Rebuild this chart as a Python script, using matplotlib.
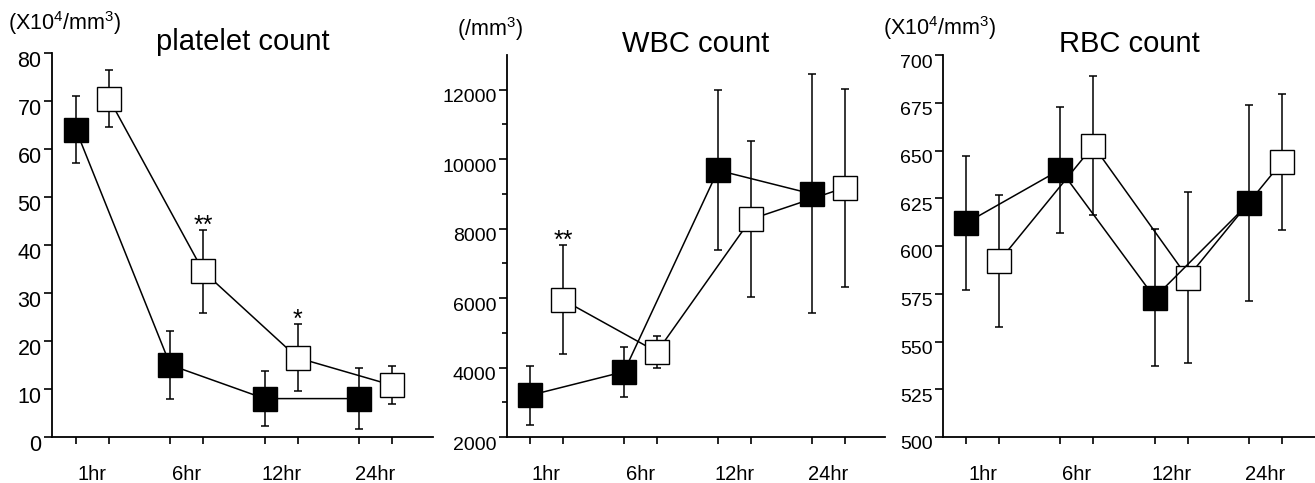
import numpy as np
import matplotlib
matplotlib.use("Agg")
import matplotlib.pyplot as plt
from matplotlib.transforms import ScaledTranslation

plt.rcParams['font.family'] = ['Liberation Sans', 'DejaVu Sans']
plt.rcParams['mathtext.fontset'] = 'custom'
plt.rcParams['mathtext.rm'] = 'Liberation Sans'
plt.rcParams['mathtext.default'] = 'regular'

# time points
categories = ['1hr', '6hr', '12hr', '24hr']

# platelet count (X10^4/mm3)
plt_black = [64, 15, 8, 8]
plt_black_err = [7, 7, 5.7, 6.4]
plt_white = [70.5, 34.5, 16.5, 10.8]
plt_white_err = [6, 8.7, 7, 4]

# WBC count (/mm3)
wbc_black = [3200, 3880, 9680, 9000]
wbc_black_err = [850, 720, 2300, 3440]
wbc_white = [5950, 4450, 8270, 9180]
wbc_white_err = [1570, 470, 2250, 2850]

# RBC count (X10^4/mm3)
rbc_black = [612, 640, 573, 622.5]
rbc_black_err = [35, 33, 36, 51.5]
rbc_white = [592, 652.5, 583.5, 644]
rbc_white_err = [34.6, 36.5, 45, 35.5]

# significance marks: (time index, text, baseline y)
plt_marks = [(1, '**', 42.5), (2, '*', 23)]
wbc_marks = [(0, '**', 7450)]
rbc_marks = []

W, H = 1315, 483
fig = plt.figure(figsize=(W / 100, H / 100), dpi=100)

OFFSET = 0.35  # white squares sit to the right of the black ones


def draw_series(ax, y, err, face, z):
    x = np.arange(len(y)) + (OFFSET if face == 'white' else 0)
    ax.errorbar(x, y, yerr=err, fmt='none', ecolor='black', elinewidth=1.1,
                capsize=3.2, capthick=1.1, zorder=z)
    ax.plot(x, y, '-', color='black', lw=1.1, zorder=z + 0.5)
    ax.plot(x, y, 's', ms=17, mfc=face, mec='black', mew=1.0, zorder=z + 1)


def make_panel(rect, xlim, black, black_err, white, white_err, marks,
               title, ylim, yticks, yminor, unit, unit_xy, tick_fs=14):
    ax = fig.add_axes([rect[0] / W, (H - rect[3]) / H,
                       (rect[2] - rect[0]) / W, (rect[3] - rect[1]) / H])
    draw_series(ax, white, white_err, 'white', 2)
    draw_series(ax, black, black_err, 'black', 4)
    for i, txt, yy in marks:
        ax.text(i + OFFSET, yy, txt, ha='center', va='baseline', fontsize=18)

    ax.set_xlim(*xlim)
    ax.set_ylim(*ylim)
    ax.spines['top'].set_visible(False)
    ax.spines['right'].set_visible(False)
    for s in ['left', 'bottom']:
        ax.spines[s].set_linewidth(1.3)

    # tick marks under every square, labels between each pair
    n = len(categories)
    ax.set_xticks(np.concatenate([np.arange(n), np.arange(n) + OFFSET]))
    ax.set_xticklabels([])
    ax.set_xticks(np.arange(n) + OFFSET / 2, minor=True)
    ax.set_xticklabels(categories, minor=True, fontsize=14.5)
    ax.tick_params(axis='x', which='major', length=5, width=1.2)
    ax.tick_params(axis='x', which='minor', length=0, pad=20)

    ax.set_yticks(yticks)
    ax.set_yticklabels([str(t) for t in yticks], fontsize=tick_fs)
    if yminor is not None:
        ax.set_yticks(yminor, minor=True)
        ax.tick_params(axis='y', which='minor', length=3.5, width=1.2)
    ax.tick_params(axis='y', which='major', length=5.5, width=1.2, pad=2)
    shift = ScaledTranslation(0, -6 / 100, fig.dpi_scale_trans)
    for lab in ax.get_yticklabels():
        lab.set_transform(lab.get_transform() + shift)

    ax.text(0.5, 1 + 3 / (rect[3] - rect[1]), title, transform=ax.transAxes,
            ha='center', va='baseline', fontsize=21)
    fig.text(unit_xy[0] / W, 1 - unit_xy[1] / H, unit, ha='left',
             va='baseline', fontsize=15.5)
    return ax


make_panel((52, 53, 433, 437), (-0.254, 3.786), plt_black, plt_black_err,
           plt_white, plt_white_err, plt_marks, 'platelet count', (0, 80),
           list(range(0, 81, 10)), None, r'(X10$^{4}$/mm$^{3}$)', (8, 30),
           tick_fs=15.5)

make_panel((507, 55, 885, 437), (-0.245, 3.777), wbc_black, wbc_black_err,
           wbc_white, wbc_white_err, wbc_marks, 'WBC count', (2000, 13000),
           list(range(2000, 12001, 2000)), list(range(3000, 12000, 2000)),
           r'(/mm$^{3}$)', (457, 36))

make_panel((943, 55, 1315, 437), (-0.244, 3.70), rbc_black, rbc_black_err,
           rbc_white, rbc_white_err, rbc_marks, 'RBC count', (500, 700),
           list(range(500, 701, 25)), None, r'(X10$^{4}$/mm$^{3}$)', (883, 35))

fig.savefig('out.png', dpi=100)
